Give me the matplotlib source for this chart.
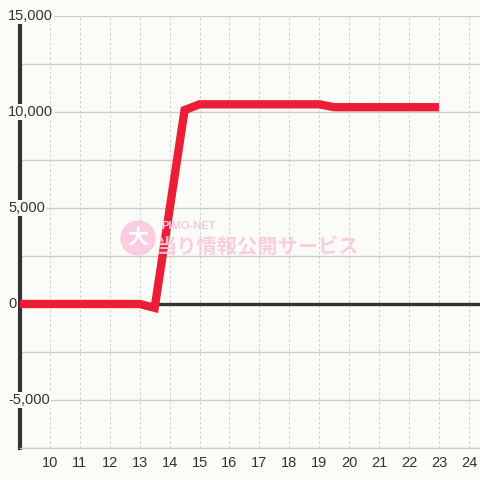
import matplotlib
matplotlib.use('Agg')
import matplotlib.pyplot as plt
import matplotlib.ticker as tick
from matplotlib.patches import Circle

# data
rounds = [9, 13, 13.5, 14.5, 15, 19, 19.5, 23]
balance = [0, 0, -200, 10100, 10400, 10400, 10250, 10250]
x_ticks = list(range(10, 25))
y_ticks = [-5000, 0, 5000, 10000, 15000]

BG = '#fbfcf8'
GRID = '#cccccc'
DARK = '#333333'
RED = '#ee1d36'

plt.rcParams['font.family'] = ['Liberation Sans', 'DejaVu Sans']

def main():
    fig = plt.figure(figsize=(4.8, 4.8), dpi=100, facecolor=BG)
    ax = fig.add_axes([20/480, 32/480, 460/480, 432/480])
    ax.set_facecolor(BG)
    ax.set_xlim(9, 24.37)
    ax.set_ylim(-7500, 15000)

    # grid
    ax.set_xticks(x_ticks)
    ax.yaxis.set_major_locator(tick.MultipleLocator(2500))
    ax.grid(axis='y', color=GRID, linewidth=1, linestyle='-', zorder=0)
    ax.grid(axis='x', color=GRID, linewidth=0.7, linestyle=(0, (2.5, 2.5)), zorder=0)
    ax.set_axisbelow(True)

    for s in ['top', 'right']:
        ax.spines[s].set_visible(False)
    ax.spines['bottom'].set_color(GRID)
    ax.spines['bottom'].set_linewidth(1)
    ax.spines['left'].set_color(DARK)
    ax.spines['left'].set_linewidth(3)
    ax.spines['left'].set_bounds(-7500, 14600)

    ax.tick_params(axis='x', length=0, pad=6, labelsize=10.5, labelcolor=DARK)
    ax.tick_params(axis='y', length=0, labelleft=False)

    # y labels drawn inside with background, left aligned
    for v in y_ticks:
        ax.text(-12/460, v, f'{v:,}', transform=ax.get_yaxis_transform(),
                ha='left', va='center', fontsize=10.5, color=DARK, zorder=5,
                bbox=dict(boxstyle='square,pad=0.1', fc=BG, ec='none'))

    ax.axhline(0, color=DARK, linewidth=2.4, zorder=2)

    # watermark
    fig.patches.append(Circle((138/480, 1-238/480), 17/480, transform=fig.transFigure,
                              color='#f9c9de', alpha=0.9, zorder=3))
    fig.text(138/480, 1-238/480, '大', ha='center', va='center', color='white',
             fontsize=15, fontweight='bold', family=['Noto Sans CJK JP'], zorder=4)
    fig.text(161/480, 1-226/480, 'PIMO-NET', ha='left', va='center', color='#f9c9de',
             fontsize=8, fontweight='bold', zorder=4)
    fig.text(157/480, 1-246/480, '当り情報公開サービス', ha='left', va='center',
             color='#f9c9de', alpha=0.9, fontsize=14.6, fontweight='bold',
             family=['Noto Sans CJK JP'], zorder=4)

    ax.plot(rounds, balance, color=RED, linewidth=6, solid_capstyle='butt',
            solid_joinstyle='miter', zorder=10)

    fig.savefig('out.png', dpi=100, facecolor=BG)

if __name__ == '__main__':
    main()
